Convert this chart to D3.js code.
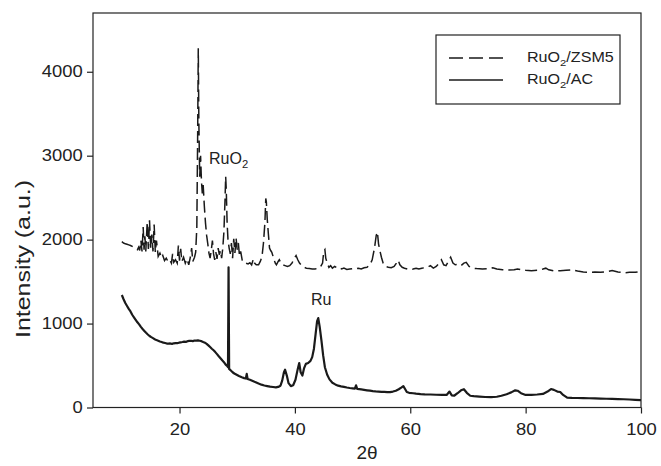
<!DOCTYPE html>
<html><head><meta charset="utf-8">
<script src="https://cdn.jsdelivr.net/npm/d3@7"></script>
<style>
html,body{margin:0;padding:0;background:#fff;}
text{font-family:"Liberation Sans",Arial,Helvetica,sans-serif;fill:#222;}
</style></head>
<body><svg id="c" width="661" height="466"></svg>
<script>
// ---- data ----
const xTicks = [20, 40, 60, 80, 100];
const yTicks = [0, 1000, 2000, 3000, 4000];
const seriesNames = ["RuO\u2082/ZSM5", "RuO\u2082/AC"];

const zsm5X = [10.0,10.3,10.6,10.9,11.2,11.5,11.8,12.1,12.4,12.7,12.9,13.1,13.3,13.5,13.7,13.85,14.0,14.15,14.4,14.6,14.8,15.0,15.2,15.4,15.6,15.8,16.0,16.3,16.6,16.9,17.1,17.4,17.7,18.0,18.3,18.6,18.8,19.0,19.3,19.6,19.8,20.0,20.2,20.4,20.7,21.0,21.3,21.6,21.9,22.1,22.3,22.6,22.8,23.0,23.15,23.25,23.35,23.5,23.65,23.8,23.95,24.1,24.3,24.5,24.7,24.9,25.1,25.3,25.5,25.7,25.9,26.1,26.3,26.5,26.7,26.9,27.1,27.3,27.5,27.7,27.9,28.0,28.1,28.25,28.4,28.6,28.8,29.0,29.2,29.4,29.6,29.8,30.0,30.2,30.4,30.6,30.9,31.1,31.5,31.9,32.2,32.5,32.8,33.0,33.3,33.7,34.0,34.3,34.55,34.8,34.95,35.05,35.2,35.4,35.6,35.8,36.0,36.3,36.6,36.8,37.1,37.3,37.6,37.9,38.3,38.7,39.1,39.5,39.9,40.2,40.5,40.8,41.2,41.6,42.0,42.5,43.0,43.5,44.0,44.4,44.8,45.0,45.2,45.35,45.6,45.9,46.2,46.5,46.9,47.3,47.7,48.1,48.5,49.0,49.5,50.0,50.5,51.0,51.5,52.0,52.5,53.0,53.4,53.8,54.1,54.3,54.5,54.7,55.0,55.3,55.7,56.2,56.7,57.2,57.6,57.9,58.2,58.6,59.0,59.5,60.0,60.5,61.0,61.5,62.0,62.5,63.0,63.5,64.0,64.5,65.0,65.4,65.8,66.2,66.6,67.0,67.4,67.8,68.3,68.8,69.3,69.7,70.2,70.8,71.5,72.5,73.5,74.3,75.0,76.0,77.0,78.0,78.6,79.3,80.0,81.0,82.0,83.0,83.5,84.0,85.0,86.0,87.0,88.0,89.0,90.0,91.0,92.0,93.0,94.0,95.0,96.0,97.0,98.0,99.0,100.0];
const zsm5Y = [1975,1960,1950,1945,1938,1930,1920,1905,1890,1880,1910,1870,1990,1860,2150,1880,2040,1860,2210,1890,2230,1900,2060,1860,2180,1850,1990,1800,1840,1780,1810,1750,1780,1740,1760,1720,1830,1730,1760,1720,1930,1750,1890,1740,1790,1720,1770,1700,1800,1900,1740,1790,1850,2150,3300,4280,3400,2750,3000,2700,2550,2650,2400,2200,2050,1950,1840,1780,1870,1990,1830,1760,1850,1770,1900,1820,1870,1780,1900,2100,2500,2750,2600,2200,2000,1900,1830,1960,1780,2010,1840,2020,1880,1960,1800,1860,1740,1740,1720,1710,1725,1700,1770,1720,1700,1700,1740,1800,1960,2200,2490,2450,2250,2070,1900,1870,1850,1780,1720,1700,1740,1760,1720,1700,1690,1680,1690,1720,1780,1810,1760,1720,1690,1670,1660,1655,1650,1650,1660,1670,1720,1860,1880,1780,1720,1670,1690,1660,1680,1665,1670,1650,1660,1645,1650,1655,1650,1660,1650,1665,1670,1700,1760,1900,2050,2090,1950,1880,1790,1720,1680,1670,1665,1680,1720,1755,1700,1670,1660,1650,1645,1650,1660,1650,1660,1665,1670,1690,1660,1680,1720,1760,1700,1690,1740,1790,1720,1700,1705,1690,1720,1730,1680,1660,1655,1650,1655,1665,1650,1640,1638,1640,1650,1640,1635,1630,1635,1650,1660,1640,1625,1630,1635,1640,1625,1615,1610,1615,1612,1618,1632,1615,1605,1610,1612,1620];

const acX = [10.0,10.3,10.6,10.9,11.2,11.5,11.8,12.1,12.4,12.7,13.0,13.3,13.6,13.9,14.2,14.5,14.8,15.1,15.4,15.7,16.0,16.3,16.6,16.9,17.2,17.5,17.8,18.1,18.4,18.7,19.0,19.3,19.6,19.9,20.2,20.5,20.8,21.1,21.4,21.7,22.0,22.3,22.6,22.9,23.2,23.5,23.8,24.1,24.4,24.7,25.0,25.3,25.6,25.9,26.2,26.5,26.8,27.1,27.4,27.7,28.0,28.25,28.4,28.5,28.6,28.9,29.2,29.5,29.9,30.3,30.8,31.2,31.5,31.65,31.8,32.2,32.7,33.2,33.7,34.2,34.7,35.2,35.7,36.2,36.7,37.1,37.5,37.8,38.1,38.3,38.6,38.9,39.3,39.7,40.1,40.5,40.75,41.0,41.3,41.6,41.9,42.3,42.7,43.0,43.3,43.6,43.85,44.05,44.3,44.6,44.9,45.2,45.6,46.0,46.5,47.0,47.5,48.0,48.5,49.0,49.5,50.0,50.4,50.6,50.8,51.5,52.0,52.5,53.0,53.5,54.0,54.5,55.0,55.5,56.0,56.5,57.0,57.5,58.0,58.5,58.8,59.1,59.4,59.8,60.5,61.0,61.8,62.5,63.5,64.5,65.5,66.3,66.8,67.2,67.6,68.2,68.8,69.3,69.8,70.4,71.0,72.0,73.0,74.0,75.0,75.8,76.7,77.5,78.2,78.6,79.2,80.0,81.0,82.0,83.0,83.8,84.4,84.9,85.5,86.0,86.5,87.2,88.0,89.0,90.0,91.0,92.0,93.0,94.0,95.0,96.0,97.0,98.0,99.0,100.0];
const acY = [1340,1290,1245,1210,1175,1145,1105,1075,1045,1015,990,960,935,912,890,870,852,838,826,814,803,795,786,780,772,768,762,760,763,758,765,768,766,772,776,780,785,782,790,793,795,791,798,796,800,795,790,780,772,758,740,720,700,682,660,636,610,586,562,540,510,495,480,1670,460,440,420,405,390,375,360,350,345,400,340,330,315,300,285,272,262,255,248,244,240,245,260,320,420,450,380,290,255,265,330,460,530,420,380,470,520,530,555,600,700,880,1030,1065,960,800,620,480,390,335,295,275,260,252,245,238,232,228,225,265,222,215,210,205,200,195,192,190,186,185,183,184,190,200,218,240,255,220,185,175,170,165,160,157,155,152,150,150,190,145,140,170,205,218,175,140,135,130,125,123,128,140,158,180,205,200,170,150,150,155,162,190,220,210,190,185,150,118,115,113,112,110,108,106,104,102,100,98,95,92,88];

// ---- layout ----
const svg = d3.select("#c");
const L = 93, R = 641, T = 13, B = 407.5;
const SX = 1.15; // horizontal widening of the reference lettering
const x = d3.scaleLinear().domain([5, 100]).range([L, R]);
const y = d3.scaleLinear().domain([0, 4700]).range([B, T]);

// frame
svg.append("rect").attr("x", L).attr("y", T).attr("width", R - L).attr("height", B - T)
  .attr("fill", "none").attr("stroke", "#222").attr("stroke-width", 1.2);

// axes
const xAxis = svg.append("g").attr("transform", `translate(0,${B})`)
  .call(d3.axisBottom(x).tickValues(xTicks).tickSize(6).tickPadding(10).tickFormat(d3.format("d")));
const yAxis = svg.append("g").attr("transform", `translate(${L},0)`)
  .call(d3.axisLeft(y).tickValues(yTicks).tickSize(6).tickPadding(3).tickFormat(d3.format("d")));
[xAxis, yAxis].forEach(g => {
  g.select(".domain").remove();
  g.selectAll("line").attr("stroke", "#222").attr("stroke-width", 1.2);
  g.selectAll("text").style("font-size", "16px").attr("fill", "#222")
    .attr("transform", `scale(${SX},1)`);
});

// axis titles
svg.append("text").attr("x", (L + R) / 2).attr("y", 459).attr("text-anchor", "middle")
  .style("font-size", "19px").text("2\u03b8");
svg.append("text").attr("transform", `translate(30,259) rotate(-90)`)
  .attr("text-anchor", "middle").style("font-size", "20px")
  .attr("textLength", 158).attr("lengthAdjust", "spacingAndGlyphs").text("Intensity (a.u.)");

// series
const line = d3.line().x(d => x(d[0])).y(d => y(d[1]));
const zsm5 = zsm5X.map((v, i) => [v, zsm5Y[i]]);
const ac = acX.map((v, i) => [v, acY[i]]);
svg.append("path").datum(ac).attr("d", line).attr("fill", "none")
  .attr("stroke", "#1a1a1a").attr("stroke-width", 2.2).attr("stroke-linejoin", "round");
svg.append("path").datum(zsm5).attr("d", line).attr("fill", "none")
  .attr("stroke", "#1a1a1a").attr("stroke-width", 1.5).attr("stroke-dasharray", "12,5");

// annotations
function chem(sel, xp, yp, base, sub, rest, fs, sx) {
  const g = sel.append("g").attr("transform", `translate(${xp},${yp}) scale(${sx},1)`);
  const t = g.append("text").attr("x", 0).attr("y", 0).style("font-size", fs + "px");
  t.append("tspan").text(base);
  t.append("tspan").attr("dy", fs * 0.3).style("font-size", (fs * 0.7) + "px").text(sub);
  if (rest) t.append("tspan").attr("dy", -fs * 0.3).text(rest);
  return g;
}
chem(svg, 209, 163.5, "RuO", "2", "", 16, 1);
svg.append("text").attr("x", 311).attr("y", 305).style("font-size", "16px").text("Ru");

// legend
const lg = svg.append("g");
lg.append("rect").attr("x", 436).attr("y", 35).attr("width", 184).attr("height", 69)
  .attr("fill", "#fff").attr("stroke", "#222").attr("stroke-width", 1.2);
lg.append("line").attr("x1", 449).attr("x2", 503).attr("y1", 58).attr("y2", 58)
  .attr("stroke", "#1a1a1a").attr("stroke-width", 1.3).attr("stroke-dasharray", "14,6");
lg.append("line").attr("x1", 449).attr("x2", 503).attr("y1", 80).attr("y2", 80)
  .attr("stroke", "#1a1a1a").attr("stroke-width", 1.3);
chem(lg, 527, 62, "RuO", "2", "/ZSM5", 14, SX);
chem(lg, 527, 84, "RuO", "2", "/AC", 14, SX);
</script></body></html>
